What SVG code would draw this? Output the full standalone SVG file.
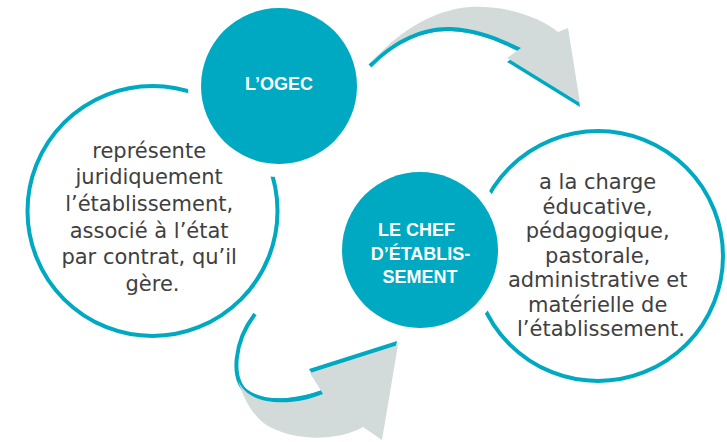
<svg xmlns="http://www.w3.org/2000/svg" width="727" height="442" viewBox="0 0 727 442">
<style>
.ring{fill:none;stroke:#00A9C2;stroke-width:4}
.disc{fill:#00A9C2;stroke:#fff;stroke-width:26;paint-order:stroke}
.arrow{fill:#D3DBDA}
.shadow{fill:#00A9C2}
.line{fill:none;stroke:#00A9C2;stroke-width:4}
.body{font-family:"DejaVu Sans","Liberation Sans",sans-serif;font-size:21px;fill:#404040;text-anchor:middle}
.head{font-family:"Liberation Sans",Arial,sans-serif;font-weight:bold;font-size:18px;fill:#fff;text-anchor:middle}
</style>
<rect width="727" height="442" fill="#fff"/>
<g id="connectors">
  <g id="arrow-top">
    <path class="line" d="M370,66 C395,40 425,28 450,29 C478,30 500,40 520,50"/>
    <path class="shadow" transform="translate(0,4)" d="M371,63 C395,35 430,10 470,7 C505,5 540,17 558,32 L568,28 L580,103 L507,58 L521,48 C500,38 478,28 450,27 C425,26 395,38 371,63 Z"/>
    <path class="arrow" d="M371,63 C395,35 430,10 470,7 C505,5 540,17 558,32 L568,28 L580,103 L507,58 L521,48 C500,38 478,28 450,27 C425,26 395,38 371,63 Z"/>
  </g>
  <g id="arrow-bottom">
    <path class="line" d="M255,314 C235,340 228,380 250,395 C270,405 300,400 323,392"/>
    <path class="shadow" transform="translate(-1,-4)" d="M238,380 C244,396 262,404 290,402 C302,401 313,398 323,394 L310,373 L398,345 L382,440 L363,427 C340,440 300,442 272,428 C258,422 245,405 238,380 Z"/>
    <path class="arrow" d="M238,380 C244,396 262,404 290,402 C302,401 313,398 323,394 L310,373 L398,345 L382,440 L363,427 C340,440 300,442 272,428 C258,422 245,405 238,380 Z"/>
  </g>
</g>
<g id="node-ogec-desc">
  <circle class="ring" cx="152.5" cy="211" r="125"/>
  <text class="body">
    <tspan x="152.5" y="157.5">représente</tspan>
    <tspan x="152.5" y="184.2">juridiquement</tspan>
    <tspan x="152.5" y="210.9">l’établissement,</tspan>
    <tspan x="152.5" y="237.6">associé à l’état</tspan>
    <tspan x="152.5" y="264.3">par contrat, qu’il</tspan>
    <tspan x="152.5" y="291">gère.</tspan>
  </text>
</g>
<g id="node-chef-desc">
  <circle class="ring" cx="598" cy="256" r="125"/>
  <text class="body">
    <tspan x="601" y="189">a la charge</tspan>
    <tspan x="601" y="213.5">éducative,</tspan>
    <tspan x="601" y="238">pédagogique,</tspan>
    <tspan x="601" y="262.5">pastorale,</tspan>
    <tspan x="601" y="287">administrative et</tspan>
    <tspan x="601" y="311.5">matérielle de</tspan>
    <tspan x="601" y="336">l’établissement.</tspan>
  </text>
</g>
<g id="node-ogec">
  <circle class="disc" cx="279" cy="86" r="78"/>
  <text class="head" x="279" y="89.5">L’OGEC</text>
</g>
<g id="node-chef">
  <circle class="disc" cx="420" cy="250" r="78"/>
  <text class="head">
    <tspan x="419" y="236">LE CHEF</tspan>
    <tspan x="423" y="259.5">D’ÉTABLIS-</tspan>
    <tspan x="420" y="283">SEMENT</tspan>
  </text>
</g>
</svg>
